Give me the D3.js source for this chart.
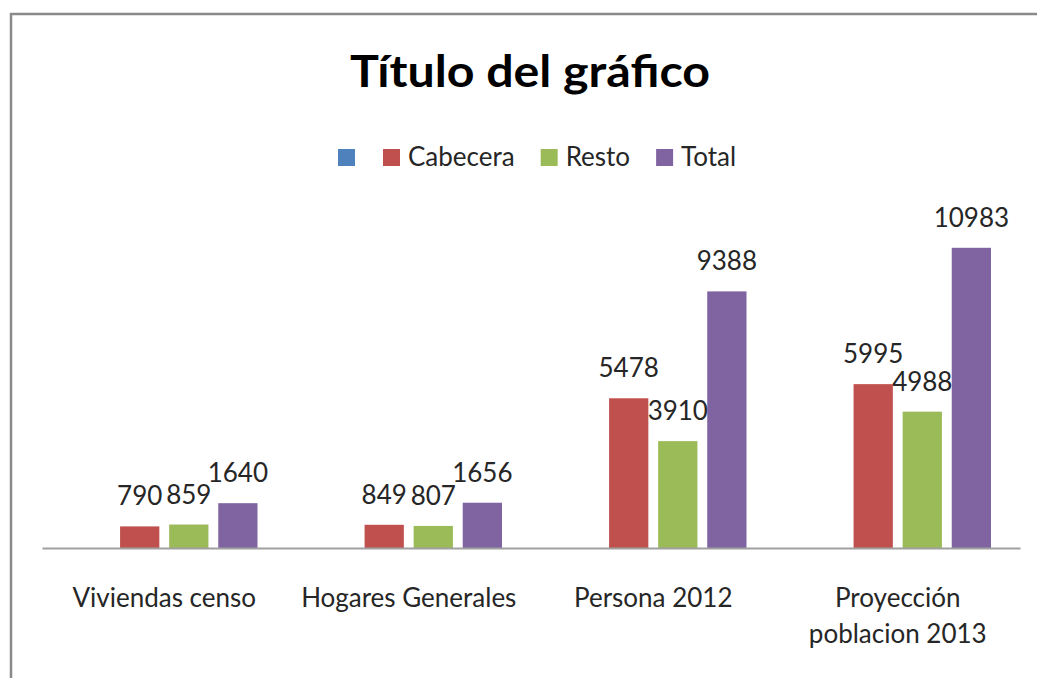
<!DOCTYPE html>
<html>
<head>
<meta charset="utf-8">
<script src="https://cdn.jsdelivr.net/npm/d3@7"></script>
<style>
  body { margin: 0; background: #fff; }
  text { font-family: Lato, "Open Sans", sans-serif; fill: #262626; }
</style>
</head>
<body>
<script>
// data
var categories = ["Viviendas censo", "Hogares Generales", "Persona 2012", "Proyección\npoblacion 2013"];
var seriesNames = ["", "Cabecera", "Resto", "Total"];
var colors = ["#4F81BD", "#C0504D", "#9BBB59", "#8064A2"];
var blank = [null, null, null, null];
var cabecera = [790, 849, 5478, 5995];
var resto = [859, 807, 3910, 4988];
var total = [1640, 1656, 9388, 10983];
var seriesValues = [blank, cabecera, resto, total];

var W = 1037, H = 678;
var svg = d3.select("body").append("svg")
    .attr("width", W)
    .attr("height", H);

// chart border (right and bottom fall outside the picture)
svg.append("rect")
    .attr("x", 11).attr("y", 14)
    .attr("width", W + 20).attr("height", H + 20)
    .style("fill", "#fff")
    .style("stroke", "#8a8a8a")
    .style("stroke-width", 2.5);

// title
svg.append("text")
    .attr("x", 530).attr("y", 87)
    .attr("text-anchor", "middle")
    .attr("textLength", 360)
    .attr("lengthAdjust", "spacingAndGlyphs")
    .style("font-size", "43px")
    .style("font-weight", "bold")
    .style("fill", "#000")
    .text("Título del gráfico");

// scales
var x0 = d3.scaleBand().domain(d3.range(categories.length)).range([42, 1020]);
var x1 = d3.scaleBand().domain(d3.range(seriesNames.length))
    .range([29, x0.bandwidth() - 29])
    .paddingInner(0.2);
var y = d3.scaleLinear().domain([0, 12000]).range([548, 220]);

function rowsOf(d, i) {
  return seriesValues.map(function(s, j) { return {s: j, v: s[i]}; })
    .filter(function(d) { return d.v != null; });
}

// bars
var groups = svg.selectAll(".group")
    .data(categories)
  .enter().append("g")
    .attr("class", "group")
    .attr("transform", function(d, i) { return "translate(" + x0(i) + ",0)"; });

groups.selectAll(".bar")
    .data(rowsOf)
  .enter().append("rect")
    .attr("class", "bar")
    .attr("x", function(d) { return x1(d.s); })
    .attr("y", function(d) { return y(d.v); })
    .attr("width", x1.bandwidth())
    .attr("height", function(d) { return y(0) - y(d.v); })
    .style("fill", function(d) { return colors[d.s]; });

groups.selectAll(".lbl")
    .data(rowsOf)
  .enter().append("text")
    .attr("class", "lbl")
    .attr("x", function(d) { return x1(d.s) + x1.bandwidth() / 2; })
    .attr("y", function(d) { return y(d.v) - 21; })
    .attr("text-anchor", "middle")
    .style("font-size", "26px")
    .text(function(d) { return d.v; });

// x axis
var xAxis = svg.append("g")
    .attr("transform", "translate(0," + y(0) + ")")
    .call(d3.axisBottom(x0).tickSize(0).tickFormat(""));
xAxis.select(".domain").attr("stroke", "#a0a0a0").attr("stroke-width", 2);

groups.append("text")
    .attr("class", "cat")
    .attr("x", x0.bandwidth() / 2)
    .attr("y", 607)
    .attr("text-anchor", "middle")
    .style("font-size", "26px")
    .selectAll("tspan")
    .data(function(d) { return d.split("\n"); })
  .enter().append("tspan")
    .attr("x", x0.bandwidth() / 2)
    .attr("dy", function(d, i) { return i ? 36 : 0; })
    .text(function(d) { return d; });

// legend
var legend = svg.append("g").attr("class", "legend");
var lx = 338;
seriesNames.forEach(function(name, i) {
  var g = legend.append("g").attr("transform", "translate(" + lx + ",149)");
  g.append("rect")
      .attr("width", 17).attr("height", 17)
      .style("fill", colors[i]);
  var t = g.append("text")
      .attr("x", 25).attr("y", 17)
      .style("font-size", "26px")
      .text(name);
  var tw = name ? t.node().getComputedTextLength() : 0;
  lx += 25 + tw + (name ? 26 : 20);
});
</script>
</body>
</html>
